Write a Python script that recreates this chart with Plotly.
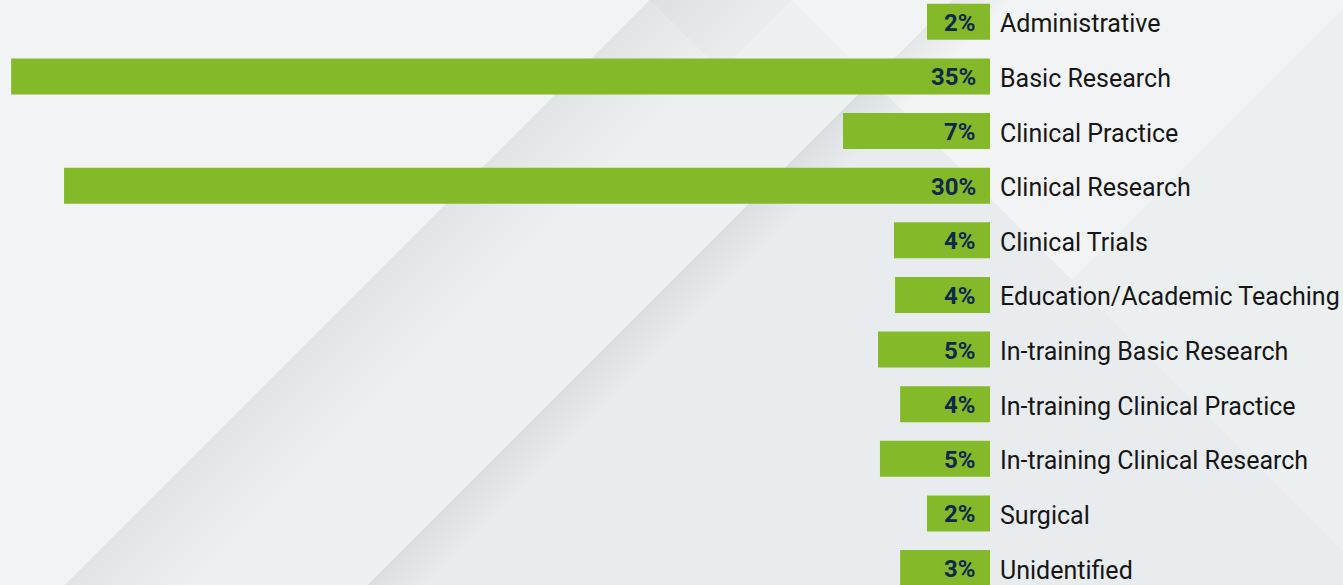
import plotly.graph_objects as go

# ---- data ----
categories = [
    "Administrative",
    "Basic Research",
    "Clinical Practice",
    "Clinical Research",
    "Clinical Trials",
    "Education/Academic Teaching",
    "In-training Basic Research",
    "In-training Clinical Practice",
    "In-training Clinical Research",
    "Surgical",
    "Unidentified",
]
# bar lengths as drawn (relative units, longest bar = 35)
bar_lengths = [2.25, 34.96, 5.25, 33.07, 3.43, 3.39, 4.0, 3.21, 3.93, 2.25, 3.21]
# percentage labels printed in the bars
pct_labels = ["2%", "35%", "7%", "30%", "4%", "4%", "5%", "4%", "5%", "2%", "3%"]

W, H = 1343, 585
L, R, T, B = 0, 353, 0, 0
PW = W - L - R

BAR_COLOR = "#84BA2A"
PCT_COLOR = "#10294A"
LABEL_COLOR = "#161616"

fig = go.Figure()
fig.add_trace(go.Bar(
    x=bar_lengths,
    y=categories,
    orientation="h",
    marker=dict(color=BAR_COLOR, line=dict(width=0)),
    hoverinfo="skip",
))

for cat, lab in zip(categories, pct_labels):
    # percentage label at the bar base (right end)
    fig.add_annotation(
        x=0, y=cat, xref="x", yref="y",
        text=lab, showarrow=False,
        xanchor="right", yanchor="middle", xshift=-12, yshift=-1,
        font=dict(family="Roboto", size=24, color=PCT_COLOR, weight="bold"),
    )
    # category label to the right of the plot area
    fig.add_annotation(
        x=1, y=cat, xref="paper", yref="y",
        text=cat, showarrow=False,
        xanchor="left", yanchor="middle", xshift=8, yshift=-2,
        font=dict(family="Roboto", size=25, color=LABEL_COLOR),
    )

# ---- decorative background (pixel coordinates -> paper coordinates) ----
def px_path(pts):
    s = ""
    for i, (px, py) in enumerate(pts):
        xp = (px - L) / PW
        yp = 1 - (py - T) / (H - T - B)
        s += ("M" if i == 0 else "L") + f"{xp:.5f},{yp:.5f}"
    return s + "Z"

def poly(pts, rgba):
    return dict(type="path", xref="paper", yref="paper", layer="below",
                path=px_path(pts), fillcolor=rgba, line=dict(width=0))

def soft_band(c0, width, total_alpha, n=12, rgb="80,85,90"):
    # fading shadow on the right/below side of line x+y=c0
    out = []
    a = total_alpha / n
    for k in range(1, n + 1):
        c1 = c0 + width * k / n
        out.append(poly([(c0, 0), (c1, 0), (c1 - H, H), (c0 - H, H)],
                        f"rgba({rgb},{a:.4f})"))
    return out

shapes = []
# darker mountain interior (between x+y=650 and x-y=792)
shapes.append(poly([(65, 585), (650, 0), (792, 0), (1343, 551), (1343, 585)],
                   "rgba(120,130,140,0.018)"))
# soft shadow along its left edge
shapes += soft_band(650, 130, 0.10)
# darker inner mountain (x+y=952 / x-y=792)
shapes.append(poly([(367, 585), (872, 80), (1343, 551), (1343, 585)],
                   "rgba(110,125,135,0.035)"))
shapes += soft_band(952, 60, 0.03)
# right upper wedge (x+y=1352)
shapes.append(poly([(1343, 9), (1072, 280), (1343, 551)],
                   "rgba(110,125,135,0.030)"))
# top middle darker triangle
shapes.append(poly([(650, 0), (792, 0), (721, 71)], "rgba(110,120,130,0.03)"))

fig.update_layout(
    width=W, height=H,
    margin=dict(l=L, r=R, t=T, b=B, pad=0),
    paper_bgcolor="#F1F3F4",
    plot_bgcolor="rgba(0,0,0,0)",
    showlegend=False,
    bargap=0.34,
    shapes=shapes,
    font=dict(family="Roboto"),
    xaxis=dict(range=[PW / 28.0, 0], visible=False, fixedrange=True),
    yaxis=dict(
        categoryorder="array", categoryarray=categories,
        range=[10.31, -0.40],
        showticklabels=False, showgrid=False, zeroline=False, showline=False,
        ticks="", fixedrange=True,
    ),
)

fig.write_html(
    "out.html",
    config={"displayModeBar": False},
    post_script="document.body.style.margin='0';document.body.style.padding='0';",
)
